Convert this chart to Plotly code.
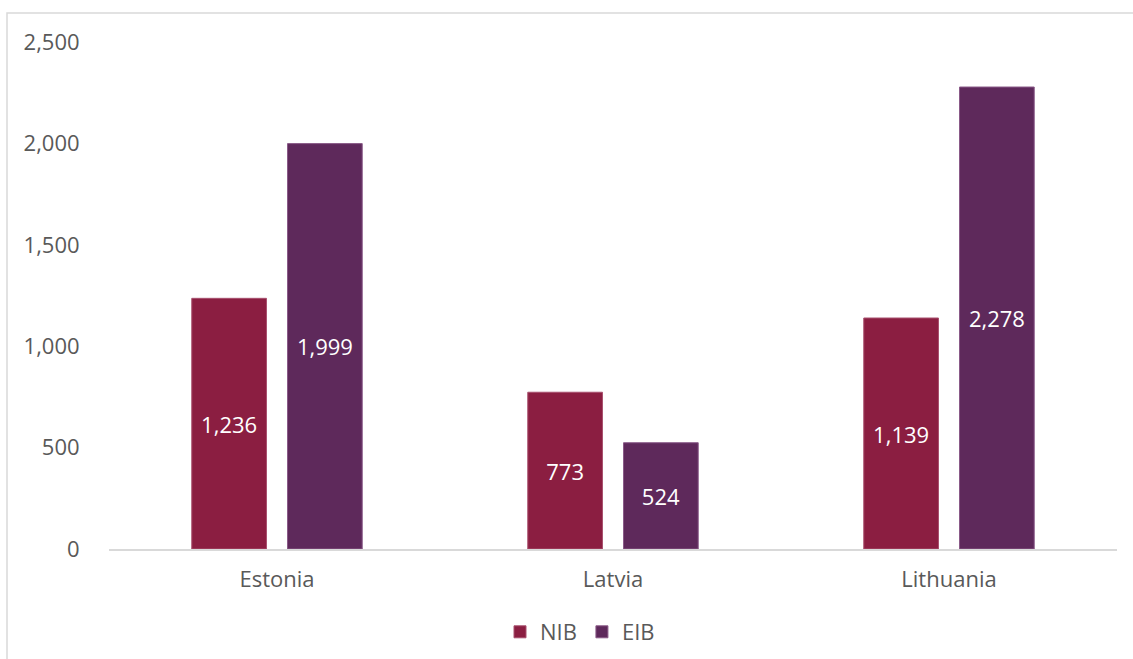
import plotly.graph_objects as go

categories = ["Estonia", "Latvia", "Lithuania"]
nib = [1236, 773, 1139]
eib = [1999, 524, 2278]
series_names = ["NIB", "EIB"]
tick_vals = [0, 500, 1000, 1500, 2000, 2500]
tick_text = ["0", "500", "1,000", "1,500", "2,000", "2,500"]

colors = ["#8B1E41", "#5E295B"]
line_colors = ["#A8506E", "#8A5A88"]

FONT = "Open Sans"
FS = 22

fig = go.Figure()
for name, vals, c, lc in zip(series_names, [nib, eib], colors, line_colors):
    fig.add_trace(go.Bar(
        x=categories, y=vals, name=name,
        marker=dict(color=c, line=dict(color=lc, width=1)),
        text=[f"{v:,}" for v in vals],
        textposition="inside", insidetextanchor="middle",
        textfont=dict(color="white", size=FS, family=FONT),
        textangle=0,
    ))

L, R, T, B = 109, 16, 42, 110
W, H = 1133, 659
pw = W - L - R
ph = H - T - B

def px_x(x):
    return (x - L) / pw

def px_y(y):
    return (H - B - y) / ph

fig.update_layout(
    width=W, height=H,
    margin=dict(l=L, r=R, t=T, b=B, autoexpand=False),
    paper_bgcolor="white", plot_bgcolor="white",
    barmode="group", bargap=0.43, bargroupgap=0.22,
    font=dict(family=FONT, color="#595959", size=FS),
    showlegend=True,
    legend=dict(orientation="h", x=px_x(580), xanchor="center", y=px_y(632), yanchor="middle",
                font=dict(size=FS, color="#595959"), itemwidth=30, traceorder="normal"),
    shapes=[dict(type="rect", xref="paper", yref="paper",
                 x0=px_x(7), x1=1.2, y0=-0.5, y1=px_y(13),
                 line=dict(color="#D9D9D9", width=1.5), layer="below")],
)
fig.update_xaxes(showline=True, linecolor="#D9D9D9", linewidth=1.5,
                 ticks="outside", ticklen=10, tickcolor="rgba(0,0,0,0)",
                 tickfont=dict(size=FS, color="#595959"), showgrid=False)
fig.update_yaxes(range=[0, 2500], tickvals=tick_vals, ticktext=tick_text, showgrid=False,
                 zeroline=False, showline=False, ticks="outside", ticklen=24, tickcolor="rgba(0,0,0,0)",
                 tickfont=dict(size=FS, color="#595959"))

fig.write_html("out.html", config={"displayModeBar": False},
               post_script="document.body.style.margin='0';")
